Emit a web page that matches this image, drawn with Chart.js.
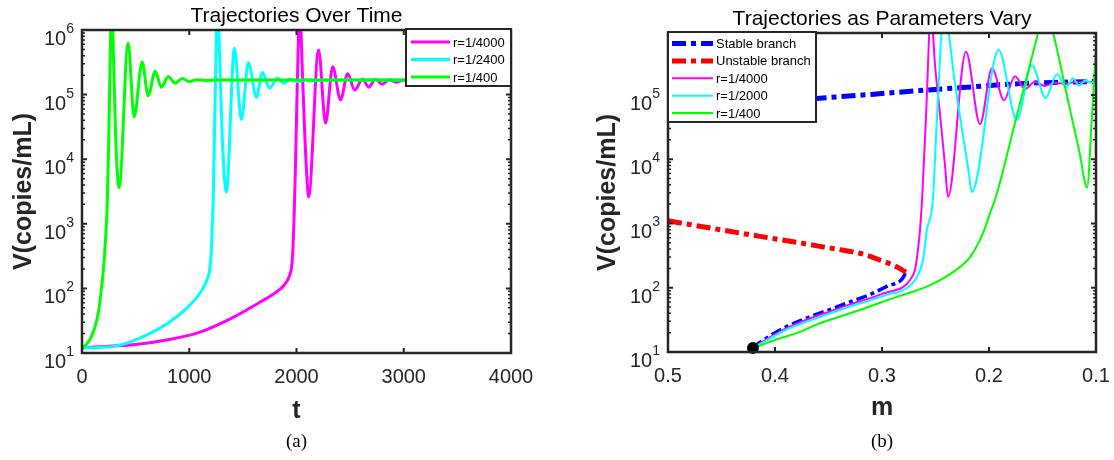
<!DOCTYPE html>
<html>
<head>
<meta charset="utf-8">
<title>Trajectories</title>
<script src="https://cdn.jsdelivr.net/npm/chart.js@4.4.1/dist/chart.umd.min.js"></script>
<style>
  html, body { margin: 0; padding: 0; background: #ffffff; }
  #figure { position: relative; width: 1114px; height: 460px; overflow: hidden; background: #ffffff; }
  #figure canvas { position: absolute; top: 0; }
</style>
</head>
<body>
<div id="figure">
  <canvas id="panelA" width="557" height="460" style="left:0px"></canvas>
  <canvas id="panelB" width="557" height="460" style="left:557px"></canvas>
</div>
<script>
// ---------- Panel (a): viral load V over time t ----------
const timeTicks = [0, 1000, 2000, 3000, 4000];
const decadesA = [1, 2, 3, 4, 5, 6];

const tR4000 = [0, 250, 500, 800, 1100, 1400, 1650, 1800, 1880, 1930, 1955, 1968, 1977, 1986, 1998, 2012, 2030, 2052, 2075, 2095,
                2113, 2206, 2271, 2337, 2411, 2477, 2542, 2617, 2673, 2735, 2800, 2865, 2930, 3000, 3070, 3150, 3300, 4000];
const vR4000 = [12, 12.7, 13.5, 16, 21, 35, 60, 85, 110, 150, 220, 450, 1200, 4000, 30000, 300000, 2500000, 300000, 30000, 6000,
                2600, 490000, 36000, 270000, 83000, 210000, 118000, 174000, 130000, 172000, 145000, 170000, 155000, 169000, 160000, 168000, 165000, 168000];

const tR2400 = [0, 150, 330, 570, 800, 980, 1100, 1165, 1195, 1208, 1216, 1224, 1234, 1247, 1265, 1285, 1305, 1325, 1346, 1421,
                1486, 1552, 1626, 1683, 1748, 1823, 1880, 1945, 2010, 2080, 2150, 2250, 4000];
const vR2400 = [12, 12.2, 13, 18, 29, 50, 85, 135, 220, 450, 1000, 2500, 20000, 250000, 2500000, 300000, 30000, 6000, 3100, 520000,
                41000, 310000, 91000, 220000, 126000, 180000, 150000, 175000, 158000, 170000, 163000, 168000, 168000];

const tR400 = [0, 40, 80, 120, 150, 175, 200, 220, 235, 248, 260, 277, 295, 315, 330, 346, 430, 486, 561, 617,
               683, 739, 804, 870, 935, 1000, 1070, 1150, 1250, 4000];
const vR400 = [12, 13.5, 17, 25, 40, 80, 200, 600, 2000, 15000, 200000, 3000000, 300000, 20000, 6000, 3600, 630000, 45000, 320000, 96000,
               230000, 130000, 190000, 150000, 178000, 160000, 170000, 166000, 168000, 168000];

// ---------- Panel (b): trajectories against the slowly varying parameter m ----------
const mTicks = [0.5, 0.4, 0.3, 0.2, 0.1];
const mTickText = ['0.5', '0.4', '0.3', '0.2', '0.1'];
const decadesB = [1, 2, 3, 4, 5];

const mStableUpper = [0.5, 0.45, 0.4, 0.358, 0.31, 0.2645, 0.22, 0.171, 0.13, 0.1];
const vStableUpper = [59000, 68000, 79000, 89000, 102000, 117000, 132000, 150000, 158000, 162000];

const mStableLower = [0.4206, 0.415, 0.405, 0.39, 0.37, 0.35, 0.33, 0.31, 0.295, 0.2813, 0.2776];
const vStableLower = [11.5, 13.8, 17.7, 24.5, 34, 45, 60, 80, 106, 136, 175];

const mUnstable = [0.5, 0.457, 0.414, 0.38, 0.358, 0.34, 0.327, 0.315, 0.302, 0.292, 0.286, 0.2813, 0.2776];
const vUnstable = [1100, 830, 630, 510, 440, 393, 361, 323, 270, 233, 210, 190, 175];

const mPathR4000 = [0.4206, 0.415, 0.39, 0.37, 0.35, 0.33, 0.3112, 0.295, 0.2804, 0.2738, 0.2692, 0.2664, 0.2645, 0.2626, 0.2589, 0.2542,
                    0.2505, 0.2458, 0.2411, 0.2383, 0.2215, 0.2084, 0.1972, 0.186, 0.1757, 0.1664, 0.157, 0.148, 0.139, 0.13, 0.12, 0.1];
const vPathR4000 = [11.5, 13.3, 23, 32, 42, 55, 69, 85, 102, 132, 190, 390, 790, 2300, 45000, 2000000,
                    300000, 50000, 8000, 2600, 470000, 35000, 260000, 83000, 195000, 124000, 160000, 138000, 155000, 150000, 157000, 160000];

const mPathR2000 = [0.4206, 0.415, 0.39, 0.37, 0.35, 0.33, 0.3112, 0.295, 0.2766, 0.2673, 0.2617, 0.258, 0.2525, 0.2486, 0.2421,
                    0.2318, 0.2243, 0.2196, 0.216, 0.191, 0.174, 0.16, 0.147, 0.1365, 0.128, 0.1215, 0.116, 0.11, 0.105, 0.1];
const vPathR2000 = [11.5, 13, 22, 30, 39, 51, 64, 78, 99, 148, 270, 800, 2300, 45000, 2000000,
                    150000, 23000, 7500, 3100, 500000, 41000, 290000, 90000, 210000, 130000, 180000, 140000, 170000, 155000, 165000];

const mPathR400 = [0.4206, 0.415, 0.4, 0.3785, 0.358, 0.3206, 0.2953, 0.2804, 0.255, 0.2336, 0.2178, 0.2056, 0.199, 0.1935,
                   0.174, 0.1542, 0.1477, 0.14, 0.125, 0.1155, 0.1084, 0.104, 0.1];
const vPathR400 = [11.5, 12.4, 15.4, 20, 28, 45, 64, 77, 110, 175, 300, 710, 1450, 2600,
                   48000, 910000, 2500000, 910000, 67000, 13000, 3600, 40000, 550000];

const startM = [0.4206];
const startV = [11.5];

// ---------- shared styling ----------
const AXIS_COLOR = '#262626';
const SANS = '"Liberation Sans", Arial, Helvetica, sans-serif';
const SERIF = '"Liberation Serif", "Times New Roman", serif';
const BRANCH_DASH = [14, 5, 5, 5];

const pts = (xs, ys) => xs.map((x, i) => ({ x: x, y: ys[i] }));

function curve(label, xs, ys, color, width, order, extra) {
  return Object.assign({
    label: label,
    data: pts(xs, ys),
    borderColor: color,
    backgroundColor: color,
    borderWidth: width,
    pointRadius: 0,
    fill: false,
    cubicInterpolationMode: 'monotone',
    borderJoinStyle: 'round',
    order: order
  }, extra || {});
}

// Box axes with inward ticks, log minor ticks and TeX-like 10^n labels
const boxAxes = {
  id: 'boxAxes',
  afterDatasetsDraw(chart, args, o) {
    const ctx = chart.ctx, a = chart.chartArea;
    const xs = chart.scales.x, ys = chart.scales.y;
    ctx.save();
    ctx.strokeStyle = AXIS_COLOR;
    ctx.lineCap = 'butt';
    ctx.lineWidth = 2;
    ctx.beginPath();
    o.xTicks.forEach(v => {
      const px = xs.getPixelForValue(v);
      ctx.moveTo(px, a.bottom); ctx.lineTo(px, a.bottom - 5);
      ctx.moveTo(px, a.top); ctx.lineTo(px, a.top + 5);
    });
    o.decades.forEach(e => {
      const py = ys.getPixelForValue(Math.pow(10, e));
      ctx.moveTo(a.left, py); ctx.lineTo(a.left + 5, py);
      ctx.moveTo(a.right, py); ctx.lineTo(a.right - 5, py);
    });
    ctx.stroke();
    ctx.lineWidth = 1.5;
    ctx.beginPath();
    const lo = Math.floor(Math.log10(ys.min)), hi = Math.ceil(Math.log10(ys.max));
    for (let e = lo; e < hi; e++) {
      for (let k = 2; k <= 9; k++) {
        const v = k * Math.pow(10, e);
        if (v <= ys.min || v >= ys.max) continue;
        const py = ys.getPixelForValue(v);
        ctx.moveTo(a.left, py); ctx.lineTo(a.left + 3, py);
        ctx.moveTo(a.right, py); ctx.lineTo(a.right - 3, py);
      }
    }
    ctx.stroke();
    ctx.lineWidth = 2.5;
    ctx.strokeRect(a.left, a.top, a.right - a.left, a.bottom - a.top);
    ctx.restore();
  },
  afterDraw(chart, args, o) {
    const ctx = chart.ctx, a = chart.chartArea;
    const xs = chart.scales.x, ys = chart.scales.y;
    const cx = (a.left + a.right) / 2;
    ctx.save();
    ctx.fillStyle = AXIS_COLOR;
    // x tick labels
    ctx.font = '20px ' + SANS;
    ctx.textAlign = 'center';
    ctx.textBaseline = 'alphabetic';
    o.xTicks.forEach((v, i) => {
      ctx.fillText(o.xTickText[i], xs.getPixelForValue(v), o.xLabelY);
    });
    // y tick labels: 10 with raised exponent
    ctx.textAlign = 'left';
    o.decades.forEach(e => {
      const py = ys.getPixelForValue(Math.pow(10, e));
      ctx.font = '14px ' + SANS;
      const we = ctx.measureText(String(e)).width;
      ctx.font = '20px ' + SANS;
      const wb = ctx.measureText('10').width;
      const right = a.left - o.yLabelGap;
      ctx.fillText('10', right - we - wb, py + 15);
      ctx.font = '14px ' + SANS;
      ctx.fillText(String(e), right - we, py + 3);
    });
    // title
    ctx.textAlign = 'center';
    ctx.fillStyle = '#000000';
    ctx.font = '21px ' + SANS;
    ctx.fillText(o.title, cx, o.titleY);
    // axis titles
    ctx.fillStyle = AXIS_COLOR;
    ctx.font = 'bold 25px ' + SANS;
    ctx.fillText(o.xTitle, cx, o.xTitleY);
    ctx.save();
    ctx.translate(o.yTitleX, (a.top + a.bottom) / 2);
    ctx.rotate(-Math.PI / 2);
    ctx.textBaseline = 'middle';
    ctx.fillText(o.yTitle, 0, 0);
    ctx.restore();
    // panel caption
    ctx.fillStyle = '#000000';
    ctx.font = '19px ' + SERIF;
    ctx.fillText(o.caption, cx, o.captionY);
    ctx.restore();
  }
};

// Legend box sitting in a corner of the axes
const cornerLegend = {
  id: 'cornerLegend',
  afterDraw(chart, args, o) {
    const ctx = chart.ctx, a = chart.chartArea;
    const x = o.corner === 'right' ? a.right - o.width : a.left;
    const y = a.top - 1;
    ctx.save();
    ctx.fillStyle = '#ffffff';
    ctx.fillRect(x, y, o.width, o.height);
    ctx.lineWidth = 2;
    ctx.strokeStyle = AXIS_COLOR;
    ctx.strokeRect(x, y, o.width, o.height);
    const items = chart.data.datasets.filter(d => d.label && !d.hideInLegend);
    items.forEach((d, i) => {
      const cy = y + o.firstRow + i * o.rowStep;
      ctx.beginPath();
      ctx.setLineDash(d.borderDash || []);
      ctx.lineCap = 'butt';
      ctx.lineWidth = d.borderWidth;
      ctx.strokeStyle = d.borderColor;
      ctx.moveTo(x + o.sampleFrom, cy);
      ctx.lineTo(x + o.sampleTo, cy);
      ctx.stroke();
      ctx.setLineDash([]);
      ctx.fillStyle = '#000000';
      ctx.font = '13px ' + SANS;
      ctx.textAlign = 'left';
      ctx.textBaseline = 'middle';
      ctx.fillText(d.label, x + o.textX, cy + 1);
    });
    ctx.restore();
  }
};

const baseOptions = (padding, xScale, yScale, axesOpts, legendOpts) => ({
  responsive: false,
  animation: false,
  devicePixelRatio: 1,
  events: [],
  layout: { padding: padding },
  scales: { x: xScale, y: yScale },
  plugins: {
    legend: { display: false },
    tooltip: { enabled: false },
    title: { display: false },
    boxAxes: axesOpts,
    cornerLegend: legendOpts
  }
});

new Chart(document.getElementById('panelA'), {
  type: 'line',
  data: {
    datasets: [
      curve('r=1/4000', tR4000, vR4000, '#FF00FF', 3, 3),
      curve('r=1/2400', tR2400, vR2400, '#00FFFF', 3, 2),
      curve('r=1/400', tR400, vR400, '#00FF00', 3, 1)
    ]
  },
  options: baseOptions(
    { left: 82, top: 30, right: 46, bottom: 107 },
    { type: 'linear', min: 0, max: 4000, display: false },
    { type: 'logarithmic', min: 10, max: 1e6, display: false },
    { xTicks: timeTicks, xTickText: timeTicks.map(String), decades: decadesA,
      title: 'Trajectories Over Time', titleY: 22, xTitle: 't', xTitleY: 418,
      yTitle: 'V(copies/mL)', yTitleX: 24, caption: '(a)', captionY: 447,
      xLabelY: 383, yLabelGap: 8 },
    { corner: 'right', width: 105, height: 57, firstRow: 13, rowStep: 17.5,
      sampleFrom: 5, sampleTo: 44, textX: 47 }
  ),
  plugins: [boxAxes, cornerLegend]
});

new Chart(document.getElementById('panelB'), {
  type: 'line',
  data: {
    datasets: [
      curve('Stable branch', mStableUpper, vStableUpper, '#0000FF', 5, 5, { borderDash: BRANCH_DASH }),
      curve('Unstable branch', mUnstable, vUnstable, '#FF0000', 5, 4, { borderDash: BRANCH_DASH }),
      curve('r=1/4000', mPathR4000, vPathR4000, '#FF00FF', 2, 3),
      curve('r=1/2000', mPathR2000, vPathR2000, '#00FFFF', 2, 2),
      curve('r=1/400', mPathR400, vPathR400, '#00FF00', 2, 1),
      curve('Stable branch', mStableLower, vStableLower, '#0000FF', 3.5, 5, { borderDash: [11, 4, 4, 4], hideInLegend: true }),
      {
        label: 'start', hideInLegend: true, data: pts(startM, startV), showLine: false,
        pointRadius: 6, pointBackgroundColor: '#000000', pointBorderColor: '#000000', pointBorderWidth: 0,
        clip: false, order: 0
      }
    ]
  },
  options: baseOptions(
    { left: 111, top: 33, right: 18, bottom: 108 },
    { type: 'linear', min: 0.1, max: 0.5, reverse: true, display: false },
    { type: 'logarithmic', min: 10, max: 9.2e5, display: false },
    { xTicks: mTicks, xTickText: mTickText, decades: decadesB,
      title: 'Trajectories as Parameters Vary', titleY: 25, xTitle: 'm', xTitleY: 415,
      yTitle: 'V(copies/mL)', yTitleX: 51, caption: '(b)', captionY: 447,
      xLabelY: 382, yLabelGap: 8 },
    { corner: 'left', width: 148, height: 90, firstRow: 11.5, rowStep: 17.4,
      sampleFrom: 4, sampleTo: 45, textX: 48 }
  ),
  plugins: [boxAxes, cornerLegend]
});
</script>
</body>
</html>
